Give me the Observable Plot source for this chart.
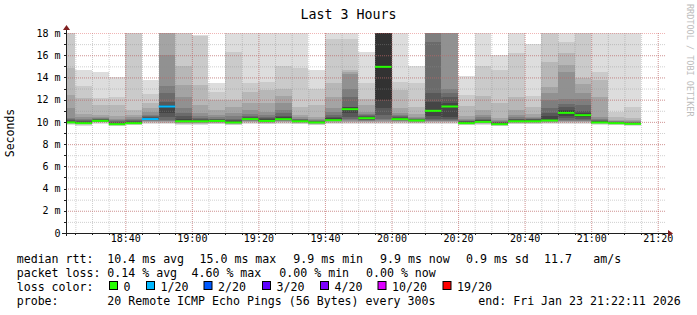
<!DOCTYPE html>
<html><head><meta charset="utf-8">
<script src="https://cdn.jsdelivr.net/npm/d3@7"></script>
<script src="https://cdn.jsdelivr.net/npm/@observablehq/plot@0.6"></script>
<style>
html,body{margin:0;padding:0;background:#fff;}
#chart{position:relative;width:697px;height:315px;overflow:hidden;}
svg{display:block;}
</style></head><body><div id="chart"></div>
<script>
// ---------- data ----------
const title = "Last 3 Hours";
const yLabel = "Seconds";
const rangeStart = "18:22:11";
const rangeEnd = "21:22:11";
// end of each 300 s step (first step is partial)
const slotEnds = ["18:25","18:30","18:35","18:40","18:45","18:50","18:55","19:00","19:05","19:10","19:15","19:20","19:25","19:30","19:35","19:40","19:45","19:50","19:55","20:00","20:05","20:10","20:15","20:20","20:25","20:30","20:35","20:40","20:45","20:50","20:55","21:00","21:05","21:10","21:15"];
// median rtt (ms) per step
const median = [10.0,9.93,10.14,9.84,9.93,10.3,11.43,10.1,10.1,10.13,9.99,10.3,10.13,10.29,10.1,9.99,10.2,11.19,10.38,15.0,10.29,10.17,11.04,11.43,9.93,10.05,9.84,10.1,10.1,10.17,10.86,10.65,9.99,9.93,9.87];
// lost pings (of 20) per step
const loss = [0,0,0,0,0,1,1,0,0,0,0,0,0,0,0,0,0,0,0,0,0,0,0,0,0,0,0,0,0,0,0,0,0,0,0];
// 20 sorted pings (ms) per step (values above 18 are off the chart)
const smoke = [
 [9.72,9.8,9.85,9.88,9.91,9.93,9.95,9.97,9.98,10.0,10.03,10.1,10.15,10.25,10.35,11.25,12.45,14.85,19,19],
 [9.65,9.72,9.77,9.8,9.83,9.85,9.87,9.88,9.89,9.9,9.95,10.0,10.1,10.2,10.3,10.4,10.7,12.15,13.2,14.7],
 [9.85,9.9,9.95,9.98,10.0,10.03,10.06,10.08,10.1,10.12,10.16,10.2,10.25,10.3,10.35,10.45,10.6,11.5,12.15,14.5],
 [9.6,9.66,9.7,9.73,9.76,9.78,9.8,9.81,9.82,9.83,9.85,9.9,9.97,10.05,10.15,10.3,10.5,11.5,12.2,14.0],
 [9.7,9.75,9.79,9.82,9.85,9.87,9.89,9.9,9.91,9.92,9.95,10.0,10.1,10.15,10.25,10.4,10.6,11.07,19,19],
 [9.8,9.88,9.95,10.0,10.05,10.1,10.15,10.2,10.24,10.28,10.32,10.35,10.4,10.5,10.6,10.85,11.25,11.7,12.5,13.8],
 [9.8,9.88,9.93,9.98,10.05,10.12,10.2,10.4,10.8,11.4,11.46,11.5,11.8,12.6,13.2,16.0,19,19,19,19],
 [9.75,9.8,9.85,9.9,9.93,9.96,9.99,10.02,10.05,10.08,10.12,10.3,10.5,10.8,11.25,12.27,13.3,15.0,19,19],
 [9.75,9.8,9.85,9.9,9.93,9.96,9.99,10.02,10.05,10.08,10.12,10.2,10.25,10.35,10.5,10.8,11.55,13.35,17.7,17.8],
 [9.8,9.85,9.9,9.94,9.97,10.0,10.03,10.06,10.09,10.11,10.15,10.2,10.25,10.3,10.4,10.6,11.07,12.0,12.7,13.5],
 [9.7,9.76,9.8,9.84,9.87,9.9,9.92,9.94,9.96,9.97,10.01,10.1,10.2,10.3,10.5,10.8,11.3,12.0,16.3,19],
 [9.85,9.92,9.97,10.02,10.07,10.12,10.17,10.21,10.25,10.28,10.32,10.38,10.45,10.55,10.7,11.07,11.7,12.7,13.47,19],
 [9.8,9.85,9.9,9.94,9.97,10.0,10.03,10.06,10.09,10.11,10.15,10.25,10.35,10.45,10.6,10.9,11.7,12.87,13.6,19],
 [9.8,9.88,9.95,10.0,10.05,10.1,10.15,10.2,10.24,10.27,10.31,10.4,10.55,10.8,11.07,11.7,12.3,13.0,15.0,19],
 [9.8,9.85,9.9,9.93,9.96,9.99,10.02,10.04,10.06,10.08,10.12,10.15,10.2,10.25,10.3,10.4,10.62,11.37,14.82,19],
 [9.7,9.76,9.8,9.84,9.87,9.9,9.92,9.94,9.95,9.96,9.98,10.02,10.06,10.12,10.2,10.3,10.47,11.52,13.0,14.67],
 [9.8,9.88,9.94,9.99,10.04,10.08,10.11,10.14,10.16,10.18,10.22,10.35,10.45,10.6,10.85,11.25,12.27,13.5,17.5,19],
 [9.85,9.9,9.95,10.0,10.1,10.2,10.3,10.47,10.8,11.18,11.22,11.3,11.37,12.27,13.0,14.3,14.5,14.67,17.5,18.2],
 [9.85,9.9,9.95,10.0,10.05,10.1,10.15,10.2,10.3,10.36,10.4,10.45,10.5,10.6,10.7,10.92,11.5,12.1,13.47,16.3],
 [9.85,9.9,9.95,10.0,10.05,10.15,10.3,10.6,11.25,12.0,18,19,19,19,19,19,19,19,19,19],
 [9.85,9.9,9.95,10.0,10.05,10.1,10.15,10.2,10.24,10.27,10.31,10.35,10.4,10.5,10.6,10.8,11.22,12.87,13.6,19],
 [9.8,9.86,9.92,9.96,10.0,10.04,10.08,10.11,10.13,10.15,10.18,10.2,10.25,10.3,10.35,10.45,10.7,11.37,13.47,15.0],
 [9.85,9.9,9.95,10.0,10.05,10.1,10.2,10.3,10.5,11.0,11.08,11.8,12.57,17.2,19,19,19,19,19,19],
 [9.85,9.9,9.95,10.0,10.05,10.1,10.2,10.3,10.47,11.4,11.46,11.67,12.27,12.6,13.0,19,19,19,19,19],
 [9.7,9.76,9.8,9.84,9.86,9.88,9.89,9.9,9.91,9.92,9.95,10.0,10.05,10.1,10.15,10.25,10.5,11.4,12.4,14.1],
 [9.75,9.8,9.85,9.89,9.92,9.95,9.98,10.0,10.02,10.04,10.07,10.15,10.2,10.3,10.4,10.6,11.1,12.3,15.05,19],
 [9.6,9.66,9.7,9.73,9.76,9.78,9.8,9.81,9.82,9.83,9.86,9.9,9.95,10.0,10.05,10.15,10.35,11.67,14.67,16.0],
 [9.8,9.85,9.9,9.93,9.96,9.99,10.02,10.04,10.06,10.08,10.12,10.18,10.22,10.3,10.4,10.6,11.07,12.27,16.2,19],
 [9.8,9.85,9.9,9.93,9.96,9.99,10.02,10.04,10.06,10.08,10.12,10.18,10.22,10.28,10.35,10.45,10.7,11.3,12.33,17.0],
 [9.8,9.86,9.92,9.96,10.0,10.04,10.08,10.11,10.13,10.15,10.2,10.5,10.8,11.22,12.0,12.57,13.17,15.42,19,19],
 [9.85,9.9,9.95,10.0,10.05,10.1,10.2,10.35,10.5,10.8,10.95,11.1,11.3,11.6,12.1,14.5,15.1,16.2,17.2,19],
 [9.85,9.9,9.95,10.0,10.05,10.1,10.2,10.3,10.45,10.6,10.7,10.8,11.0,11.5,12.1,12.57,13.4,13.92,19,19],
 [9.75,9.8,9.84,9.88,9.91,9.93,9.95,9.96,9.97,9.98,10.02,10.06,10.12,10.2,10.3,10.47,12.27,13.77,14.52,19],
 [9.7,9.76,9.8,9.84,9.86,9.88,9.89,9.9,9.91,9.92,9.94,9.96,9.98,10.0,10.05,10.1,10.2,10.4,10.92,19],
 [9.65,9.7,9.75,9.78,9.8,9.82,9.83,9.84,9.85,9.86,9.88,9.9,9.93,9.96,10.0,10.05,10.15,10.32,11.37,19]
];
const yTicks = [0,2,4,6,8,10,12,14,16,18];
const yTickLabels = ["0","2 m","4 m","6 m","8 m","10 m","12 m","14 m","16 m","18 m"];
const xTickLabels = ["18:40","19:00","19:20","19:40","20:00","20:20","20:40","21:00","21:20"];
const lossLevels = [0,1,2,3,4,10,19];
const lossLabels = ["0","1/20","2/20","3/20","4/20","10/20","19/20"];
const lossColors = ["#26ff00","#00b8ff","#0059ff","#5e00ff","#7e00ff","#dd00ff","#ff0000"];
const legendRows = [
  ["median rtt:", ["10.4 ms avg","15.0 ms max","9.9 ms min","9.9 ms now","0.9 ms sd","11.7","am/s"]],
  ["packet loss:", ["0.14 % avg","4.60 % max","0.00 % min","0.00 % now"]],
  ["loss color:", []],
  ["probe:", ["20 Remote ICMP Echo Pings (56 Bytes) every 300s","end: Fri Jan 23 21:22:11 2026"]]
];
const credit = "RRDTOOL / TOBI OETIKER";

// ---------- build ----------
const day = [2026,0,23];
const T = s => { const p = s.split(":").map(Number); return new Date(Date.UTC(day[0],day[1],day[2],p[0],p[1],p[2]||0)); };
const t0 = T(rangeStart), t1 = T(rangeEnd);
const bars = slotEnds.map((s,i)=>({start: i ? T(slotEnds[i-1]) : t0, end: T(s), median: median[i], loss: loss[i], pings: smoke[i]}));
const gray = k => { const v = Math.floor(190/10*(10-k))+50; const h = v.toString(16).padStart(2,"0"); return "#"+h+h+h; };
const bands = [];
bars.forEach(b => { for (let j=1;j<20;j++) bands.push({x1:b.start,x2:b.end,y1:b.pings[j-1],y2:b.pings[j],fill:gray(Math.min(j,20-j))}); });
const lossColor = l => lossColors[lossLevels.indexOf(l)];
const minorX = d3.utcMinute.every(5).range(t0, t1);
const majorX = xTickLabels.map(T);
const minorY = d3.range(1,18,1);
const majorY = yTicks.filter(d=>d>0);
const FONT = "DejaVu Sans Mono";

const chart = Plot.plot({
  width:697, height:315, marginLeft:66, marginRight:32, marginTop:33, marginBottom:82,
  x:{type:"utc", domain:[t0,t1], axis:null},
  y:{domain:[0,18], axis:null},
  color:{type:"identity"},
  style:{background:"#ffffff", fontFamily:FONT, color:"#000", overflow:"visible"},
  marks:[
    Plot.rect(bands,{x1:"x1",x2:"x2",y1:"y1",y2:"y2",fill:"fill",clip:true,shapeRendering:"crispEdges"}),
    Plot.ruleY(minorY,{stroke:"rgb(143,143,143)",strokeOpacity:0.42,strokeDasharray:"1,1"}),
    Plot.ruleX(minorX,{stroke:"rgb(143,143,143)",strokeOpacity:0.42,strokeDasharray:"1,1"}),
    Plot.ruleY(majorY,{stroke:"rgb(222,79,79)",strokeOpacity:0.42,strokeDasharray:"1,1"}),
    Plot.ruleX(majorX,{stroke:"rgb(222,79,79)",strokeOpacity:0.42,strokeDasharray:"1,1"}),
    Plot.ruleY(bars,{x1:"start",x2:"end",y:"median",stroke:d=>lossColor(d.loss),strokeWidth:2}),
    Plot.text(yTicks,{y:d=>d,text:(d,i)=>yTickLabels[i],frameAnchor:"left",textAnchor:"end",dx:-6,fontSize:10,fill:"#000"}),
    Plot.text(majorX,{x:d=>d,text:(d,i)=>xTickLabels[i],frameAnchor:"bottom",dy:8,fontSize:10,fill:"#000"})
  ]
});
document.getElementById("chart").appendChild(chart);

// axes, arrows, ticks, title and legend drawn with the plot's scales
const X = chart.scale("x").apply, Y = chart.scale("y").apply;
const svg = d3.select(chart);
const g = svg.append("g");
const axisCol = "rgb(31,31,31)", arrowCol = "rgb(128,31,31)";
const xL = X(t0), xR = X(t1), yB = Y(0), yT = Y(18);
minorY.concat(majorY).forEach(v=>{ g.append("line").attr("x1",xL-2).attr("x2",xL).attr("y1",Math.round(Y(v))+0.5).attr("y2",Math.round(Y(v))+0.5).attr("stroke",axisCol); });
minorX.forEach(t=>{ g.append("line").attr("x1",Math.round(X(t))+0.5).attr("x2",Math.round(X(t))+0.5).attr("y1",yB).attr("y2",yB+2).attr("stroke",axisCol); });
g.append("line").attr("x1",xL-4).attr("x2",xR+4).attr("y1",yB+0.5).attr("y2",yB+0.5).attr("stroke",axisCol);
g.append("line").attr("x1",xL+0.5).attr("x2",xL+0.5).attr("y1",yB+3).attr("y2",yT-5).attr("stroke",axisCol);
g.append("path").attr("d",`M${xL-3},${yT-3}L${xL+4},${yT-3}L${xL+0.5},${yT-8}Z`).attr("fill",arrowCol);
g.append("path").attr("d",`M${xR+3},${yB-3}L${xR+3},${yB+4}L${xR+8},${yB+0.5}Z`).attr("fill",arrowCol);

const txt = (x,y,s,size,anchor) => svg.append("text").attr("x",x).attr("y",y).attr("font-family",FONT).attr("font-size",size).attr("text-anchor",anchor||"start").attr("fill","#000").attr("xml:space","preserve").text(s);
txt(348.5,18.5,title,13.3,"middle");
svg.append("text").attr("transform",`translate(14,${(yB+yT)/2}) rotate(-90)`).attr("text-anchor","middle").attr("font-family",FONT).attr("font-size",11.5).attr("fill","#000").text(yLabel);
svg.append("text").attr("transform","translate(686.5,4) rotate(90)").attr("text-anchor","start").attr("font-family",FONT).attr("font-size",8.5).attr("fill","#bcbcbc").text(credit);

const rowY = [263,277,291,305];
const colX = [[107.3,199.5,293.3,380,466,544,593.3],[107.3,191.5,279.3,366],[],[107.3,478.3]];
const LF = 11.6;
legendRows.forEach((r,i)=>{ txt(16.7,rowY[i],r[0],LF); r[1].forEach((s,j)=>txt(colX[i][j],rowY[i],s,LF)); });
const boxX = [109,146,203.5,262,320,377.5,442.5];
lossLabels.forEach((l,i)=>{
  svg.append("rect").attr("x",boxX[i]+0.5).attr("y",rowY[2]-9.5).attr("width",8).attr("height",8).attr("fill",lossColors[i]).attr("stroke","#000");
  txt(boxX[i]+14.5,rowY[2],l,LF);
});
</script></body></html>
